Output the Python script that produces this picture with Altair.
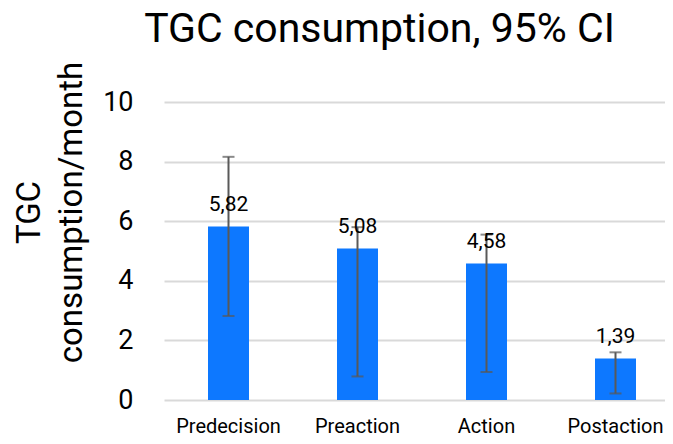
import altair as alt
import pandas as pd

categories = ["Predecision", "Preaction", "Action", "Postaction"]
values = [5.82, 5.08, 4.58, 1.39]
ci_low = [2.82, 0.79, 0.94, 0.22]
ci_high = [8.16, 5.80, 5.55, 1.60]
y_ticks = [0, 2, 4, 6, 8, 10]

df = pd.DataFrame({
    "cat": categories,
    "val": values,
    "lo": ci_low,
    "hi": ci_high,
    "label": [f"{v:.2f}".replace(".", ",") for v in values],
})

FONT = "Roboto"
xenc = alt.X("cat:N", sort=categories, scale=alt.Scale(range=[0, 516], paddingInner=0, paddingOuter=0),
             axis=alt.Axis(title=None, labelAngle=0, ticks=False, domain=False, labelFontSize=20,
                           labelColor="#000000", labelFont=FONT, labelPadding=16, grid=False))
yscale = alt.Scale(domain=[0, 10])

base = alt.Chart(df)

bars = base.mark_bar(color="#0D78FF", size=41).encode(
    x=xenc,
    y=alt.Y("val:Q", scale=yscale,
            axis=alt.Axis(values=y_ticks, title=["TGC", "consumption/month"], titleFontSize=33,
                          titleFont=FONT, titleFontWeight="normal", titleColor="#000000",
                          labelFontSize=27, labelFont=FONT, labelColor="#000000",
                          ticks=False, domain=False, labelPadding=31, titlePadding=14,
                          titleY=110,
                          gridColor="#D9D9D9", gridWidth=2, titleLineHeight=42)),
)

rule = base.mark_rule(color="#595959", strokeWidth=2).encode(
    x=alt.X("cat:N", sort=categories), y=alt.Y("lo:Q", scale=yscale), y2="hi:Q")
cap_lo = base.mark_tick(color="#595959", size=12, thickness=2).encode(
    x=alt.X("cat:N", sort=categories), y=alt.Y("lo:Q", scale=yscale))
cap_hi = base.mark_tick(color="#595959", size=12, thickness=2).encode(
    x=alt.X("cat:N", sort=categories), y=alt.Y("hi:Q", scale=yscale))

text = base.mark_text(font=FONT, fontSize=21, color="#000000", baseline="middle", dy=-22).encode(
    x=alt.X("cat:N", sort=categories), y=alt.Y("val:Q", scale=yscale), text="label:N")

chart = (bars + rule + cap_lo + cap_hi + text).properties(
    width=501, height=298,
    title=alt.TitleParams("TGC consumption, 95% CI", fontSize=41, font=FONT, fontWeight="normal",
                          color="#000000", anchor="middle", frame="group", dx=-35, offset=10),
    autosize=alt.AutoSizeParams(type="none"),
    padding={"left": 156, "top": 94, "right": 0, "bottom": 36},
).configure_view(stroke=None)

chart.save("out.html", embed_options={"renderer": "svg", "actions": False})
